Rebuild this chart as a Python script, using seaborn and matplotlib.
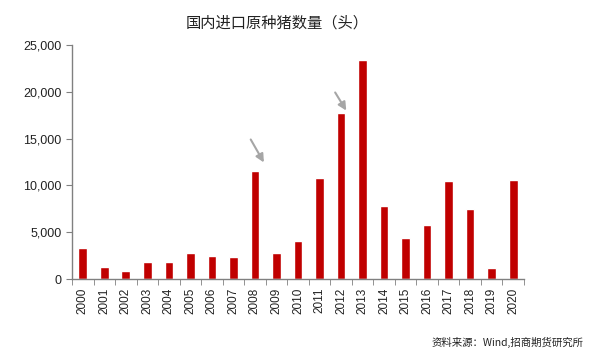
import pandas as pd
import seaborn as sns
import matplotlib.pyplot as plt
from matplotlib.ticker import FuncFormatter, MultipleLocator

years = [str(y) for y in range(2000, 2021)]
pigs = [3340, 1280, 850, 1780, 1850, 2810, 2460, 2350, 11550, 2800, 4060,
        10750, 17760, 23360, 7830, 4410, 5730, 10470, 7480, 1210, 10610]

df = pd.DataFrame({'year': years, 'pigs': pigs})

sns.set_style('white')
plt.rcParams['font.family'] = ['Noto Sans CJK SC', 'DejaVu Sans']

fig = plt.figure(figsize=(5.92, 3.55), dpi=100)
ax = fig.add_axes([0.1216, 0.214, 0.7635, 0.659])

sns.barplot(data=df, x='year', y='pigs', color='#C00000', saturation=1,
            width=0.4, ax=ax)

ax.set_xlim(-0.5, len(years) - 0.5)
ax.set_ylim(0, 25000)
ax.yaxis.set_major_locator(MultipleLocator(5000))
ax.yaxis.set_major_formatter(FuncFormatter(lambda v, p: f'{int(v):,}'))
ax.set_xlabel('')
ax.set_ylabel('')

for s in ['top', 'right']:
    ax.spines[s].set_visible(False)
for s in ['left', 'bottom']:
    ax.spines[s].set_color('#808080')
    ax.spines[s].set_linewidth(1)

# ticks between the categories on x, plain ticks on y
ax.set_xticks([i - 0.5 for i in range(len(years) + 1)], minor=True)
ax.tick_params(axis='x', which='minor', bottom=True, length=4, color='#808080')
ax.tick_params(axis='x', which='major', bottom=False, length=0, labelsize=8.5,
               rotation=90, pad=6, labelcolor='#222222')
ax.tick_params(axis='y', left=True, length=4, color='#808080', labelsize=9,
               labelcolor='#222222')
for lbl in ax.get_xticklabels() + ax.get_yticklabels():
    lbl.set_family('Liberation Sans')

# grey arrows pointing at 2008 and 2012
arrow = dict(arrowstyle='-|>', color='#A6A6A6', lw=1.5, mutation_scale=12)
ax.annotate('', xy=(8.48, 12200), xytext=(7.74, 15170), arrowprops=arrow)
ax.annotate('', xy=(12.31, 17750), xytext=(11.66, 20190), arrowprops=arrow)

fig.text(0.468, 0.935, '国内进口原种猪数量（头）', ha='center', va='center',
         fontsize=11, color='#222222')
fig.text(0.985, 0.035, '资料来源：Wind,招商期货研究所', ha='right', va='center',
         fontsize=7.5, color='#222222')

fig.savefig('out.png', dpi=100)
